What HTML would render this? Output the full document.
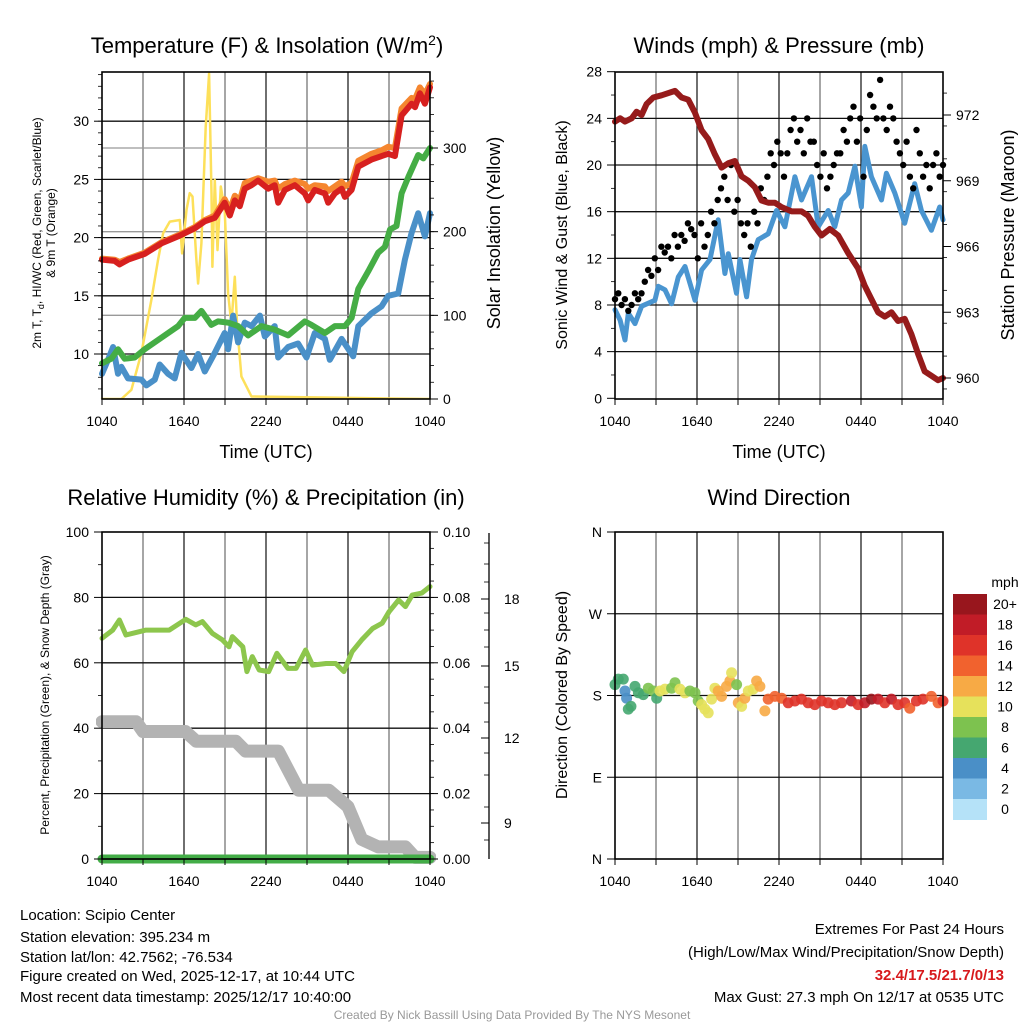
<!DOCTYPE html>
<html><head><meta charset="utf-8"><style>
body{margin:0;background:#fff}
svg{display:block;font-family:"Liberation Sans",Arial,sans-serif}
</style></head><body>
<svg id="chart" width="1024" height="1024" viewBox="0 0 1024 1024" xmlns="http://www.w3.org/2000/svg">
<rect width="1024" height="1024" fill="#fff"/>
<g id="g-grid"></g>
<g id="g-data"></g>
<g id="g-axes"></g>
<g id="g-text">
<text x="267" y="53" font-size="22" text-anchor="middle">Temperature (F) &amp; Insolation (W/m<tspan dy="-8" font-size="14">2</tspan><tspan dy="8">)</tspan></text>
<text x="779" y="53" font-size="22" text-anchor="middle">Winds (mph) &amp; Pressure (mb)</text>
<text x="266" y="505" font-size="22" text-anchor="middle">Relative Humidity (%) &amp; Precipitation (in)</text>
<text x="779" y="505" font-size="22" text-anchor="middle">Wind Direction</text>
<text x="266" y="458" font-size="18" text-anchor="middle">Time (UTC)</text>
<text x="779" y="458" font-size="18" text-anchor="middle">Time (UTC)</text>
<text transform="translate(41,233) rotate(-90)" font-size="12" text-anchor="middle">2m T, T<tspan dy="3" font-size="9">d</tspan><tspan dy="-3">, HI/WC (Red, Green, Scarlet/Blue)</tspan></text>
<text transform="translate(55,233) rotate(-90)" font-size="12" text-anchor="middle">&amp; 9m T (Orange)</text>
<text transform="translate(500,233) rotate(-90)" font-size="18" text-anchor="middle">Solar Insolation (Yellow)</text>
<text transform="translate(567,235) rotate(-90)" font-size="16" text-anchor="middle">Sonic Wind &amp; Gust (Blue, Black)</text>
<text transform="translate(1014,235) rotate(-90)" font-size="18" text-anchor="middle">Station Pressure (Maroon)</text>
<text transform="translate(49,695) rotate(-90)" font-size="12" text-anchor="middle">Percent, Precipitation (Green), &amp; Snow Depth (Gray)</text>
<text transform="translate(567,695) rotate(-90)" font-size="16" text-anchor="middle">Direction (Colored By Speed)</text>
<g font-size="15">
<text x="20" y="920">Location: Scipio Center</text>
<text x="20" y="942">Station elevation: 395.234 m</text>
<text x="20" y="962">Station lat/lon: 42.7562; -76.534</text>
<text x="20" y="981">Figure created on Wed, 2025-12-17, at 10:44 UTC</text>
<text x="20" y="1002">Most recent data timestamp: 2025/12/17 10:40:00</text>
</g>
<g font-size="15" text-anchor="end">
<text x="1004" y="934">Extremes For Past 24 Hours</text>
<text x="1004" y="957">(High/Low/Max Wind/Precipitation/Snow Depth)</text>
<text x="1004" y="980" fill="#d7191c" font-weight="bold">32.4/17.5/21.7/0/13</text>
<text x="1004" y="1002">Max Gust: 27.3 mph On 12/17 at 0535 UTC</text>
</g>
<text x="512" y="1019" font-size="12" fill="#999" text-anchor="middle">Created By Nick Bassill Using Data Provided By The NYS Mesonet</text>
</g>
</svg>
<script>
// ---------- data ----------
const xTickLabels=["1040","1640","2240","0440","1040"];
const tempT=[0,.93,1.29,1.9,3.12,4.35,5.57,6.79,7.52,8.25,8.98,9.35,9.72,10.08,10.45,10.94,11.42,12.16,12.64,12.89,13.38,14.11,14.84,15.09,15.57,16.31,16.55,17.04,17.53,17.77,18.26,18.75,19.72,20.46,20.94,21.43,21.92,22.65,22.9,23.26,23.63,24];
const tempV=[18.1,18.0,17.7,18.1,18.6,19.5,20.1,20.8,21.4,21.7,23.0,21.9,23.2,22.7,24.2,24.5,24.9,24.2,24.5,23.0,24.1,24.5,23.8,23.2,24.1,23.8,23.0,23.8,24.2,23.5,24.1,26.1,26.7,27.0,27.2,27.0,30.5,31.5,31.2,32.4,31.5,32.9];
const t9mV=[18.2,18.1,17.9,18.2,18.7,19.6,20.2,20.9,21.5,21.9,23.3,22.4,23.6,23.2,24.7,24.9,25.1,24.8,24.9,24.2,24.6,24.9,24.6,24.2,24.5,24.4,24.0,24.4,24.8,24.4,24.7,26.6,27.2,27.5,27.8,27.7,31.1,32.0,31.9,32.9,32.3,33.2];
const dewT=[0,.68,1.17,1.66,2.39,3.12,4.35,5.57,6.05,6.79,7.27,8.0,8.49,9.23,9.96,10.69,11.67,12.64,13.62,14.84,15.33,16.31,17.04,17.77,18.26,18.75,19.48,20.21,20.7,21.07,21.55,21.92,22.41,23.14,23.51,24];
const dewV=[9.2,9.6,10.4,9.6,9.7,10.4,11.4,12.4,13.1,13.1,13.7,12.5,12.8,12.7,12.4,11.6,12.4,12.1,11.6,12.8,12.5,11.8,12.4,12.4,13.1,15.6,17.1,18.7,19.2,20.7,21.0,23.8,25.2,27.1,26.8,27.7];
const wcT=[0,.44,.81,1.17,1.42,1.9,2.88,3.25,3.86,4.22,4.83,5.32,5.81,6.54,7.03,7.52,8.25,8.98,9.23,9.59,9.96,10.45,10.94,11.55,11.91,12.64,12.89,13.62,14.35,14.96,15.57,16.31,16.67,17.53,18.38,18.75,19.72,20.46,20.94,21.67,22.16,22.65,23.14,23.63,24];
const wcV=[8.3,9.5,10.6,8.3,8.9,7.9,7.8,7.3,7.8,9.1,8.3,7.9,10.1,8.8,10.0,8.5,10.1,11.8,10.4,13.3,11.0,12.7,12.4,13.3,11.5,12.4,9.7,10.6,10.9,9.7,11.8,11.3,9.5,11.3,9.8,12.4,13.5,14.1,15.0,15.2,18.1,20.4,22.1,20.1,22.1];
const solarT=[0,1.42,2.15,2.88,3.61,4.1,4.47,4.96,5.69,5.86,6.18,6.42,6.62,6.91,7.03,7.27,7.59,7.84,8.01,8.08,8.25,8.45,8.69,8.98,9.23,9.47,9.72,9.89,10.2,10.94,24];
const solarV=[0,0,11,55,118,166,198,212,214,174,226,246,242,166,138,186,325,389,246,158,262,178,254,226,126,90,146,86,27,3,0];
const windT=[0,.37,.73,.97,1.46,1.95,2.92,3.17,3.66,4.14,4.63,5.12,5.85,6.34,6.95,7.55,8.04,8.29,8.89,9.14,9.63,9.99,10.48,11.21,11.82,12.43,13.16,13.65,14.38,14.87,15.6,16.08,16.57,17.06,17.55,18.03,18.28,18.76,19.5,19.86,20.47,21.2,21.93,22.42,23.15,23.76,24];
const windV=[7.6,6.7,5.0,7.3,6.4,7.9,8.4,9.6,9.3,8.1,10.4,11.3,8.4,11.0,11.9,15.3,10.7,12.4,9.0,11.9,8.7,11.9,13.6,14.1,16.1,14.7,19.0,17.0,19.0,14.7,16.1,14.7,17.0,17.6,19.9,16.4,21.6,19.0,17.0,19.3,17.6,15.0,18.4,16.1,14.4,16.4,15.3];
const gustV=[8.5,9,8,8.5,7.5,8,9,8.5,9,10,11,10.5,12,11,13,12.5,13,12,14,13,14,13.5,15,14.5,14,12,15,13,14,16,15,17,18,19,17,20,16,17,15,14,15,13,16,15,18,17,19,21,20,22,21,19,21,23,24,22,23,21,24,22,22,20,19,21,18,19,20,21,21,23,22,24,25,22,24,19,23,26,25,24,27.3,24,23,25,24,22,21,20,22,19,18,23,21,19,20,18,20,21,19,20];
const presT=[0,.37,.73,1.22,1.58,1.95,2.31,2.8,3.41,4.39,4.87,5.36,5.85,6.34,6.82,7.31,7.8,8.29,8.77,9.26,9.75,10.24,10.72,11.21,11.7,12.19,12.92,13.65,14.13,14.62,15.11,15.72,16.33,17.06,17.79,18.28,18.76,19.25,19.74,20.23,20.71,21.2,21.69,22.18,22.66,23.15,23.64,24];
const presV=[971.7,971.85,971.7,971.85,972.15,972,972.5,972.8,972.9,973.1,972.8,972.7,972.1,971.3,970.9,970.2,969.6,969.8,969.9,969.2,969.0,968.7,968.1,968.0,968.0,967.8,967.6,967.6,967.4,966.9,966.5,966.8,966.5,965.7,965.0,964.2,963.6,963.0,962.8,963.0,962.6,962.7,962.0,961.1,960.3,960.1,959.9,960.0];
const rhT=[0,.78,1.27,1.75,3.21,4.92,6.13,6.86,7.35,8.08,8.81,9.29,9.54,10.3,10.6,11.0,11.5,12.2,12.8,13.6,14.2,14.9,15.4,16.4,17.1,17.7,18.3,19.0,19.8,20.5,21.0,21.7,22.2,22.7,23.4,24];
const rhV=[67.5,70.0,73.1,68.5,70.0,70.0,73.3,71.6,72.6,69.0,67.0,64.9,68.0,64.9,57.3,61.9,57.8,57.3,62.9,58.3,58.3,63.9,59.3,59.8,59.8,57.3,63.4,67.0,70.5,72.1,75.6,79.2,77.2,80.7,81.3,83.3];
const snowT=[0,2.5,3,6.1,6.9,9.8,10.5,12.9,14.4,16.6,18,19,20.2,22.2,22.9,24];
const snowV=[42,42,39,39,36,36,33,33,21,21,16,6,3.7,3.7,0.5,0.5];
const precipT=[0,24];
const precipV=[0,0];
const dirT=[0,.24,.61,.73,.85,.97,1.17,1.46,1.71,2.07,2.44,2.8,3.05,3.29,3.66,4.14,4.39,4.75,5.12,5.48,5.85,6.09,6.34,6.58,6.82,7.07,7.31,7.55,7.8,8.16,8.41,8.53,8.9,9.02,9.26,9.5,9.75,10.11,10.36,10.6,10.97,11.21,11.7,12.19,12.67,13.16,13.65,14.13,14.62,15.11,15.6,16.08,16.57,17.3,17.79,18.28,18.76,19.25,19.74,20.23,20.71,21.2,21.57,22.05,22.54,23.15,23.64,24];
const dirV=[192,198,198,185,177,165,168,190,183,181,188,185,177,185,187,188,194,187,183,185,183,174,170,165,161,176,188,185,179,190,196,205,192,172,168,177,185,187,196,190,163,176,179,177,172,174,176,172,170,174,172,170,172,174,170,172,176,176,172,176,170,172,166,174,176,179,172,174];
const dirSpd=[6,6,6,4,4,6,6,6,6,7,8,8,7,10,10,9,8,10,10,8,9,9,10,11,10,10,11,13,13,12,12,10,8,12,11,12,10,11,13,12,12,14,14,15,16,17,16,17,16,16,17,16,17,19,17,19,20,19,17,18,17,16,15,17,16,14,15,16];
const cbLabels=["0","2","4","6","8","10","12","14","16","18","20+"];
const cbColors=["#b5e2f8","#7ab9e4","#4a8fc7","#45a770","#7dc24f","#e6e15b","#f7aa45","#f1622e","#df3329","#c11c27","#98161d"];

// ---------- helpers ----------
const NS="http://www.w3.org/2000/svg";
function mk(tag,attrs,parent){const e=document.createElementNS(NS,tag);for(const k in attrs)e.setAttribute(k,attrs[k]);parent.appendChild(e);return e;}
const gGrid=document.getElementById('g-grid'),gData=document.getElementById('g-data'),gAxes=document.getElementById('g-axes');
function lin(d0,d1,r0,r1){return v=>r0+(v-d0)*(r1-r0)/(d1-d0);}
const P={L:{x0:102,x1:430},R:{x0:615,x1:943},T:{y0:72,y1:399},B:{y0:532,y1:859}};
const xL=lin(0,24,P.L.x0,P.L.x1), xR=lin(0,24,P.R.x0,P.R.x1);
const yTemp=lin(10,30,354,121.2);
const ySolar=lin(0,300,399,148);
const yWind=lin(0,28,398.3,71.7);
const yPres=lin(972,960,115,378);
const yPct=lin(0,100,859,532);
const yDir=lin(0,360,859,532);
function pathD(ts,vs,xs,ys){return ts.map((t,i)=>(i?'L':'M')+xs(t).toFixed(1)+','+ys(Math.max(vs[i],-1e9)).toFixed(1)).join('');}
function series(name,ts,vs,xs,ys,color,w,clip){
  const p=mk('path',{d:pathD(ts,vs,xs,ys),fill:'none',stroke:color,'stroke-width':w,'stroke-linejoin':'round','stroke-linecap':'round'},gData);
  if(clip)p.setAttribute('clip-path','url(#'+clip+')');
  
  
  return p;
}
const defs=mk('defs',{},document.getElementById('chart'));
[['clipTL',P.L.x0,P.T.y0,P.L.x1,P.T.y1],['clipTR',P.R.x0,P.T.y0,P.R.x1,P.T.y1],['clipBL',P.L.x0,P.B.y0,P.L.x1,P.B.y1+8],['clipBR',P.R.x0,P.B.y0,P.R.x1,P.B.y1]].forEach(c=>{const cp=mk('clipPath',{id:c[0]},defs);mk('rect',{x:c[1]-6,y:c[2],width:c[3]-c[1]+12,height:c[4]-c[2]},cp);});

function frame(name,px,py,xs){
  // vertical grid every 3h
  for(let h=3;h<24;h+=3){const x=xs(h);const l=mk('line',{x1:x,x2:x,y1:py.y0,y2:py.y1,stroke:h%6?'#777':'#222','stroke-width':1.3},gGrid);}
  const r=mk('rect',{x:px.x0,y:py.y0,width:px.x1-px.x0,height:py.y1-py.y0,fill:'none',stroke:'#000','stroke-width':1.6},gAxes);
  
  
  for(let h=0;h<=24;h+=3){const x=xs(h);mk('line',{x1:x,x2:x,y1:py.y1,y2:py.y1+6,stroke:'#000','stroke-width':1},gAxes);}
  xTickLabels.forEach((s,i)=>{const t=mk('text',{x:xs(i*6),y:py.y1+27,'font-size':14,'text-anchor':'middle'},gAxes);t.textContent=s;});
}
function hgrid(name,px,ys,vals,color){vals.forEach(v=>{const y=ys(v);const l=mk('line',{x1:px.x0,x2:px.x1,y1:y,y2:y,stroke:color,'stroke-width':1.3},gGrid);});}
function yticks(name,x,ys,labels,vals,minor,side,fs){
  const dir=side==='left'?-1:1;
  minor.forEach(v=>{const y=ys(v);mk('line',{x1:x,x2:x+dir*4,y1:y,y2:y,stroke:'#000','stroke-width':0.8},gAxes);});
  vals.forEach((v,i)=>{const y=ys(v);mk('line',{x1:x,x2:x+dir*8,y1:y,y2:y,stroke:'#000','stroke-width':1},gAxes);
    const t=mk('text',{x:x+dir*13,y:y+5,'font-size':fs||14,'text-anchor':side==='left'?'end':'start'},gAxes);t.textContent=labels[i];});
}
function range(a,b,s){const r=[];for(let v=a;v<=b+1e-9;v+=s)r.push(+v.toFixed(4));return r;}

// ---------- panel 1 ----------
frame('temperature',P.L,P.T,xL);
hgrid('temperature',P.L,yTemp,[10,15,20,25,30],'#111');
hgrid('solar',P.L,ySolar,[100,200,300],'#999');
yticks('temperature-y',P.L.x0,yTemp,["10","15","20","25","30"],[10,15,20,25,30],range(7,34,1),'left');
yticks('solar-y',P.L.x1,ySolar,["0","100","200","300"],[0,100,200,300],range(20,380,20),'right');
series('solar-insolation-line',solarT,solarV,xL,ySolar,'#fde05a',2.5,'clipTL');
series('windchill-line',wcT,wcV,xL,yTemp,'#4a90c8',6,'clipTL');
series('dewpoint-line',dewT,dewV,xL,yTemp,'#45ad45',6,'clipTL');
series('temp-9m-line',tempT,t9mV,xL,yTemp,'#f5862f',6,'clipTL');
series('temp-2m-line',tempT,tempV,xL,yTemp,'#d7201f',6,'clipTL');

// ---------- panel 2 ----------
frame('winds',P.R,P.T,xR);
hgrid('winds',P.R,yWind,[4,8,12,16,20,24],'#111');
yticks('wind-y',P.R.x0,yWind,["0","4","8","12","16","20","24","28"],[0,4,8,12,16,20,24,28],range(2,26,4),'left');
yticks('pressure-y',P.R.x1,yPres,["960","963","966","969","972"],[960,963,966,969,972],range(959.5,973.5,1.5),'right');
series('wind-speed-line',windT,windV,xR,yWind,'#4a95d0',5,'clipTR');
gustV.forEach((g,i)=>{const t=i*24/(gustV.length-1);
  const c=mk('circle',{cx:xR(t).toFixed(1),cy:yWind(g).toFixed(1),r:3.2,fill:'#000'},gData);
  
  
});
series('pressure-line',presT,presV,xR,yPres,'#961b1b',6,'clipTR');

// ---------- panel 3 ----------
frame('humidity',P.L,P.B,xL);
hgrid('humidity',P.L,yPct,[20,40,60,80],'#111');
yticks('percent-y',P.L.x0,yPct,["0","20","40","60","80","100"],[0,20,40,60,80,100],range(10,90,20),'left');
yticks('precip-y',P.L.x1,yPct,["0.00","0.02","0.04","0.06","0.08","0.10"],[0,20,40,60,80,100],range(5,95,5),'right');
// snow depth axis
const sAx=mk('line',{x1:489,x2:489,y1:533,y2:859,stroke:'#000','stroke-width':1.3},gAxes);


[543,564,582,613,630,647,687,703,722,753,775,807,840].forEach(y=>mk('line',{x1:489,x2:484,y1:y,y2:y,stroke:'#000','stroke-width':0.8},gAxes));
[["18",599],["15",666],["12",738],["9",823]].forEach(a=>{mk('line',{x1:489,x2:481,y1:a[1],y2:a[1],stroke:'#000','stroke-width':1},gAxes);const t=mk('text',{x:504,y:a[1]+5,'font-size':14},gAxes);t.textContent=a[0];});
series('snow-depth-line',snowT,snowV,xL,yPct,'#b3b3b3',13,'clipBL');
series('relative-humidity-line',rhT,rhV,xL,yPct,'#8dc64d',5,'clipBL');
series('precipitation-line',precipT,precipV,xL,yPct,'#43ad47',9,null);

// ---------- panel 4 ----------
frame('direction',P.R,P.B,xR);
hgrid('direction',P.R,yDir,[90,180,270],'#111');
yticks('direction-y',P.R.x0,yDir,["N","E","S","W","N"],[0,90,180,270,360],[],'left');
dirT.forEach((t,i)=>{const b=Math.min(10,Math.floor(dirSpd[i]/2));
  const c=mk('circle',{cx:xR(t).toFixed(1),cy:yDir(dirV[i]).toFixed(1),r:5.5,fill:cbColors[b],'fill-opacity':0.9},gData);
  
  
});
// colorbar
const cbTop=594,cbH=20.5;
const cbT=mk('text',{x:1005,y:587,'font-size':14,'text-anchor':'middle'},gAxes);cbT.textContent='mph';


cbLabels.forEach((s,i)=>{const k=10-i;const y=cbTop+i*cbH;
  const r=mk('rect',{x:953,y:y,width:34,height:cbH+0.5,fill:cbColors[k]},gAxes);
  
  
  const t=mk('text',{x:1005,y:y+15,'font-size':14,'text-anchor':'middle'},gAxes);t.textContent=cbLabels[k];
  
  
});
</script>
</body></html>
